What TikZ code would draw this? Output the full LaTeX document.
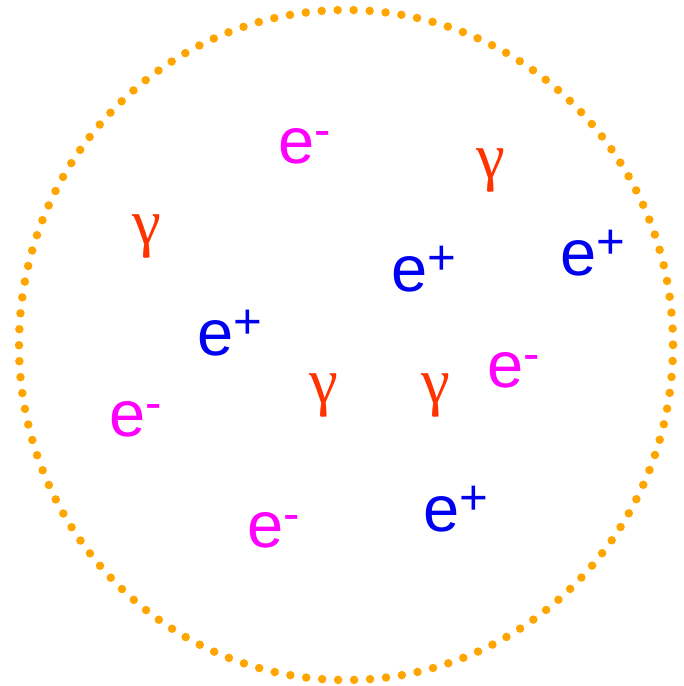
\documentclass[tikz,border=0pt]{standalone}
\usepackage{fontspec}
\setmainfont{Liberation Sans}
\newfontfamily\greekfont{Liberation Serif}
\usepackage{xcolor}
\definecolor{dotorange}{RGB}{255,165,0}
\definecolor{photred}{RGB}{255,51,0}
\definecolor{posblue}{RGB}{0,0,240}
\definecolor{elecmag}{RGB}{255,0,255}
\newcommand{\chg}[1]{\raisebox{9.5pt}{\fontsize{28}{28}\selectfont #1}}
\tikzset{
    lepton/.style={anchor=base west, inner sep=0pt, font=\fontsize{37}{40}\selectfont},
    positron/.style={lepton, text=posblue},
    electron/.style={lepton, text=elecmag},
    photon/.style={inner sep=0pt, text=photred, font=\greekfont\fontsize{37}{40}\selectfont}
}

\begin{document}
\begin{tikzpicture}[x=0.02cm, y=-0.02cm]
    \useasboundingbox (0,0) rectangle (683,686);
    % Bord du plasma
    \draw[dotorange, line width=0.17cm, line cap=round, dash pattern=on 0pt off 0.32cm]
        (346,345) ellipse [x radius=327, y radius=335];

    % Electrons
    \node[electron] (em1) at (278,163) {e\chg{-}};
    \node[electron] (em2) at (487,387) {e\chg{-}};
    \node[electron] (em3) at (109,436) {e\chg{-}};
    \node[electron] (em4) at (247,547) {e\chg{-}};

    % Positrons
    \node[positron] (ep1) at (560,275) {e\chg{+}};
    \node[positron] (ep2) at (391,291) {e\chg{+}};
    \node[positron] (ep3) at (197,355) {e\chg{+}};
    \node[positron] (ep4) at (423,531) {e\chg{+}};

    % Photons
    \node[photon] (g1) at (491,171) {γ};
    \node[photon] (g2) at (147,236) {γ};
    \node[photon] (g3) at (324,395) {γ};
    \node[photon] (g4) at (436,395) {γ};
\end{tikzpicture}
\end{document}
